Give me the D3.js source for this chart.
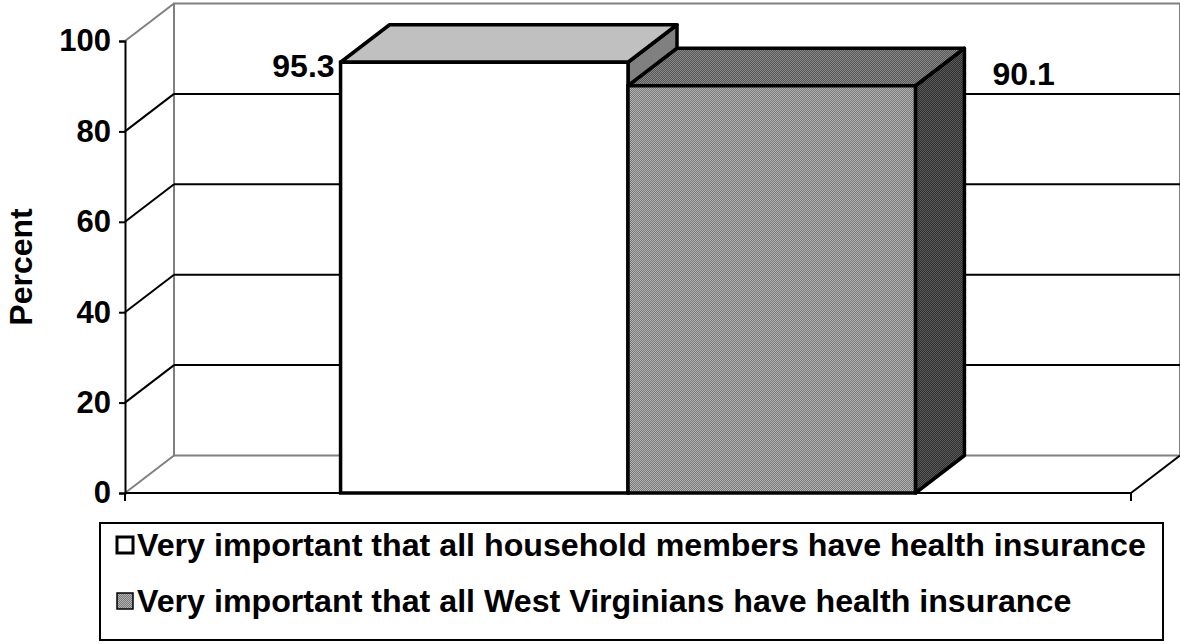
<!DOCTYPE html>
<html>
<head>
<meta charset="utf-8">
<script src="https://cdn.jsdelivr.net/npm/d3@7"></script>
<style>
  html, body { margin: 0; padding: 0; background: #fff; }
  svg { display: block; }
  text { font-family: "Liberation Sans", Arial, sans-serif; font-weight: bold; fill: #000; }
</style>
</head>
<body>
<svg id="chart" width="1180" height="644"></svg>
<script>
// Survey results: share answering "very important"
const seriesNames = [
  "Very important that all household members have health insurance",
  "Very important that all West Virginians have health insurance"
];
const seriesValues = [95.3, 90.1];
const valueLabels = ["95.3", "90.1"];
const yTicks = [0, 20, 40, 60, 80, 100];
const yTitle = "Percent";

const svg = d3.select("#chart");
const fontSize = 31;

// Front plane geometry and 3D depth offset
const frontLeft = 125, frontRight = 1131, frontBottom = 493, frontTop = 41;
const depthX = 49, depthY = -37.5;

const y = d3.scaleLinear().domain([0, 100]).range([frontBottom, frontTop]);
const x = d3.scaleBand().domain(seriesNames).range([frontLeft, frontRight])
  .paddingInner(0).paddingOuter(0.75);

// Fill patterns (dithered greys)
const defs = svg.append("defs");
function checker(id, c1, c2) {
  const p = defs.append("pattern").attr("id", id).attr("width", 2).attr("height", 2)
    .attr("patternUnits", "userSpaceOnUse");
  p.append("rect").attr("width", 2).attr("height", 2).attr("fill", c1);
  p.append("rect").attr("width", 1).attr("height", 1).attr("fill", c2);
  p.append("rect").attr("x", 1).attr("y", 1).attr("width", 1).attr("height", 1).attr("fill", c2);
}
checker("front2", "#787878", "#b4b4b4");
checker("top2", "#555555", "#8a8a8a");
checker("side2", "#2e2e2e", "#5c5c5c");

const faces = [
  { front: "#ffffff", top: "#c0c0c0", side: "#808080", legend: "#ffffff" },
  { front: "url(#front2)", top: "url(#top2)", side: "url(#side2)", legend: "url(#front2)" }
];

// Walls
const wallGrey = "#808080";
const backL = frontLeft + depthX, backR = frontRight + depthX;
const yBack = v => y(v) + depthY;

const walls = svg.append("g");
// back wall
walls.append("rect").attr("x", backL).attr("y", yBack(100))
  .attr("width", backR - backL).attr("height", yBack(0) - yBack(100))
  .attr("fill", "#fff").attr("stroke", wallGrey).attr("stroke-width", 2);

// gridlines on back wall and side wall
const grid = svg.append("g");
yTicks.forEach(t => {
  const isEdge = (t === 0 || t === 100);
  grid.append("line")
    .attr("x1", frontLeft).attr("y1", y(t))
    .attr("x2", backL).attr("y2", yBack(t))
    .attr("stroke", isEdge ? wallGrey : "#000").attr("stroke-width", 2);
  if (!isEdge) {
    grid.append("line")
      .attr("x1", backL).attr("y1", yBack(t))
      .attr("x2", backR).attr("y2", yBack(t))
      .attr("stroke", "#000").attr("stroke-width", 2);
  }
});

// floor front edge and right edge
grid.append("line").attr("x1", frontLeft).attr("y1", y(0)).attr("x2", frontRight).attr("y2", y(0))
  .attr("stroke", "#000").attr("stroke-width", 2);
grid.append("line").attr("x1", frontRight).attr("y1", y(0)).attr("x2", backR).attr("y2", yBack(0))
  .attr("stroke", "#000").attr("stroke-width", 2);
grid.append("line").attr("x1", frontRight).attr("y1", y(0)).attr("x2", frontRight).attr("y2", y(0) + 8)
  .attr("stroke", "#000").attr("stroke-width", 2);
grid.append("line").attr("x1", frontLeft).attr("y1", y(0)).attr("x2", frontLeft).attr("y2", y(0) + 8)
  .attr("stroke", "#000").attr("stroke-width", 2);

// Y axis
const yAxis = d3.axisLeft(y).tickValues(yTicks).tickSize(6).tickPadding(8);
const yg = svg.append("g").attr("transform", `translate(${frontLeft},0)`).call(yAxis);
yg.select(".domain").attr("stroke", "#000").attr("stroke-width", 2);
yg.selectAll(".tick line").attr("stroke", "#000").attr("stroke-width", 2);
yg.selectAll(".tick text").attr("font-size", fontSize).attr("font-family", null).attr("fill", "#000");

svg.append("text").attr("transform", `translate(32,${(y(0) + y(100)) / 2}) rotate(-90)`)
  .attr("text-anchor", "middle").attr("font-size", 32).text(yTitle);

// Bars (3D boxes)
const bars = svg.append("g");
seriesNames.forEach((name, i) => {
  const v = seriesValues[i];
  const x0 = x(name), x1 = x0 + x.bandwidth();
  const yt = y(v), yb = y(0);
  const f = faces[i];
  const sw = 3.5;
  // side face
  bars.append("path")
    .attr("d", `M${x1},${yt}L${x1 + depthX},${yt + depthY}L${x1 + depthX},${yb + depthY}L${x1},${yb}Z`)
    .attr("fill", f.side).attr("stroke", "#000").attr("stroke-width", sw).attr("stroke-linejoin", "round");
  // top face
  bars.append("path")
    .attr("d", `M${x0},${yt}L${x0 + depthX},${yt + depthY}L${x1 + depthX},${yt + depthY}L${x1},${yt}Z`)
    .attr("fill", f.top).attr("stroke", "#000").attr("stroke-width", sw).attr("stroke-linejoin", "round");
  // front face
  bars.append("rect").attr("x", x0).attr("y", yt).attr("width", x1 - x0).attr("height", yb - yt)
    .attr("fill", f.front).attr("stroke", "#000").attr("stroke-width", sw);
});

// Value labels
svg.append("text").attr("x", x(seriesNames[0]) - 6).attr("y", y(seriesValues[0]) + 15)
  .attr("text-anchor", "end").attr("font-size", 32).text(valueLabels[0]);
svg.append("text").attr("x", x(seriesNames[1]) + x.bandwidth() + depthX + 28).attr("y", y(seriesValues[1]) - 1)
  .attr("text-anchor", "start").attr("font-size", 32).text(valueLabels[1]);

// Legend
const lg = svg.append("g");
lg.append("rect").attr("x", 100).attr("y", 523).attr("width", 1063).attr("height", 117)
  .attr("fill", "#fff").attr("stroke", "#000").attr("stroke-width", 2);
seriesNames.forEach((name, i) => {
  const cy = 545 + i * 56;
  lg.append("rect").attr("x", 117).attr("y", cy - 8).attr("width", 16).attr("height", 16)
    .attr("fill", faces[i].legend).attr("stroke", "#000").attr("stroke-width", i === 0 ? 3 : 1.5);
  lg.append("text").attr("x", 137).attr("y", cy + 11).attr("font-size", 32.2).text(name);
});
</script>
</body>
</html>
